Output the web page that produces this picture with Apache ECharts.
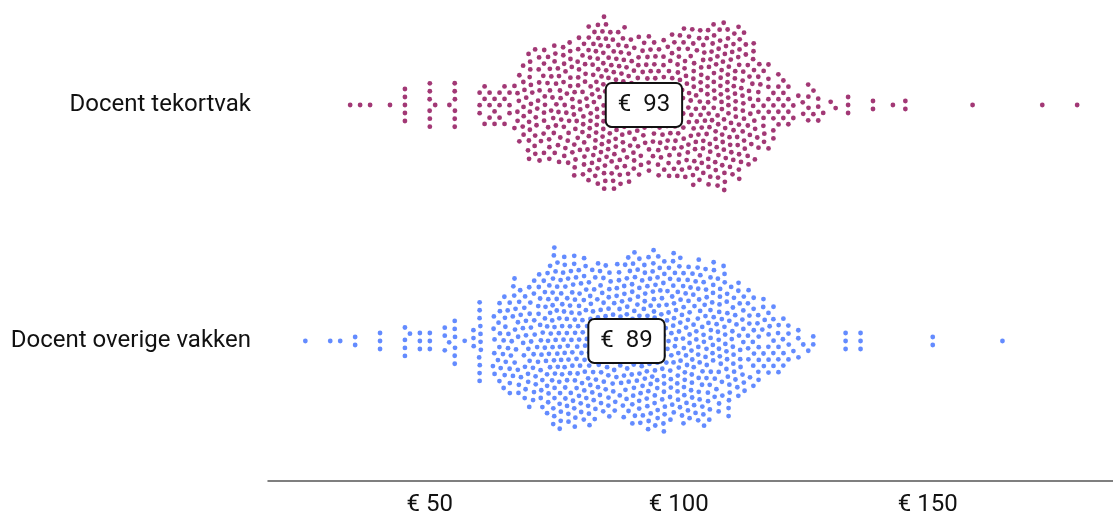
<!DOCTYPE html>
<html><head><meta charset="utf-8">
<script src="https://cdn.jsdelivr.net/npm/echarts@6/dist/echarts.min.js"></script>
<style>html,body{margin:0;padding:0;background:#fff}#c{width:1113px;height:518px}</style>
</head><body><div id="c"></div>
<script>
// y index 0 = bottom group, 1 = top group
const groups = ['Docent overige vakken', 'Docent tekortvak'];
// [value in euro, number of teachers]
const tekortvak = [
  [34,1],[36,1],[38,1],[42,1],[45,5],[50,6],[51,1],[54,1],[55,6],
  [60,3],[61,3],[62,3],[63,3],[64,3],[65,3],[66,3],[67,2],
  [68,6],[69,7],[70,14],[71,7],[72,7],
  [73,9],[74,9],[75,10],[76,10],[77,10],[78,10],
  [79,11],[80,12],[81,12],[82,13],[83,13],[84,13],
  [85,26],
  [86,13],[87,14],[88,14],[89,13],[90,13],
  [91,12],[92,11],[93,11],[94,11],[95,11],[96,11],[97,12],
  [98,12],[99,12],[100,13],[101,13],[102,13],[103,13],[104,13],[105,14],
  [106,14],[107,15],[108,15],[109,18],[110,14],
  [111,13],[112,13],[113,12],
  [114,10],[115,9],[116,8],
  [117,6],[118,6],[119,5],[120,5],[121,4],[122,4],
  [123,2],[124,1],[125,2],[126,4],[127,2],[128,3],[129,1],
  [130.5,1],[131.5,1],[134,3],[139,2],[143,1],[145.5,2],[159,1],[173,1],[180,1]
];
const overige = [
  [25,1],[30,1],[32,1],[35,2],[40,3],[45,4],[46,1],[48,3],[50,3],[53,3],[54,1],[55,6],[57,1],[59,3],[60,11],
  [63,6],[64,8],[65,8],[66,9],[67,9],[68,9],
  [69,10],[70,10],[71,10],[72,10],[73,11],[74,11],
  [75,28],
  [76,14],[77,15],[78,15],[79,15],[80,15],[81,15],[82,15],[83,14],
  [84,13],[85,12],[86,12],[87,12],[88,13],
  [89,14],[90,15],[91,15],[92,16],[93,16],[94,16],[95,16],[96,16],[97,16],[98,15],[99,15],[100,15],
  [101,15],[102,14],[103,14],[104,14],[105,14],[106,14],
  [107,13],[108,13],[109,13],[110,12],
  [111,10],[112,9],
  [113,8],[114,8],[115,7],[116,7],[117,6],[118,6],[119,5],[120,5],[121,4],[122,4],
  [123,1],[124,3],[125,1],[126,1],[127,2],
  [133.5,3],[136.5,3],[151,2],[165,1]
];
const medianPos = [89.5, 93];
const medianLabels = ['€  89', '€  93'];
const xTicks = [50, 100, 150];
const colors = ['#4d7bff', '#951d62'];

const chart = echarts.init(document.getElementById('c'));
const FONT = 'Roboto';
chart.setOption({
  animation: false,
  grid: {left: 268, right: 0, top: 105, bottom: 177, containLabel: false, outerBoundsMode: 'none'},
  xAxis: {
    type: 'value', min: 17.5, max: 187.2, offset: 140,
    axisLine: {onZero: false, lineStyle: {color: '#555', width: 1.5}},
    axisTick: {show: false}, splitLine: {show: false},
    axisLabel: {customValues: xTicks, formatter: v => '€ ' + v, fontFamily: FONT, fontSize: 24, color: '#111', margin: 12}
  },
  yAxis: {
    type: 'value', min: 0, max: 1, interval: 1,
    axisLine: {show: false}, axisTick: {show: false}, splitLine: {show: false},
    axisLabel: {formatter: v => groups[v] || '', fontFamily: FONT, fontSize: 24, color: '#111', margin: 17}
  },
  series: []
});

function swarm(data, gi) {
  const toPx = p => chart.convertToPixel({gridIndex: 0}, p);
  const cy = toPx([50, gi])[1];
  const nodes = [];
  data.forEach(([v, c]) => { for (let k = 0; k < c; k++) nodes.push({v: v, tx: toPx([v, gi])[0]}); });
  const ga = Math.PI * (3 - Math.sqrt(5));
  nodes.forEach((n, i) => {
    const r = 3 * Math.sqrt(0.5 + i), a = i * ga;
    n.x = n.tx + 0.2 * r * Math.cos(a); n.y = cy + r * Math.sin(a); n.vx = 0; n.vy = 0;
  });
  let alpha = 1;
  const alphaDecay = 1 - Math.pow(0.001, 1 / 300);
  const D = 8, D2 = D * D;
  const N = nodes.length;
  for (let t = 0; t < 300; t++) {
    alpha += (0 - alpha) * alphaDecay;
    const kx = alpha + 0.15, ky = 0.1 * alpha;
    for (const n of nodes) { n.vx += (n.tx - n.x) * kx; n.vy += (cy - n.y) * ky; }
    for (let i = 0; i < N; i++) {
      const a = nodes[i];
      const xi = a.x + a.vx, yi = a.y + a.vy;
      for (let j = i + 1; j < N; j++) {
        const b = nodes[j];
        let dx = xi - b.x - b.vx;
        if (dx >= D || dx <= -D) continue;
        let dy = yi - b.y - b.vy;
        let l = dx * dx + dy * dy;
        if (l < D2) {
          if (dx === 0) { dx = ((i * 7 + j) % 2 ? 1e-6 : -1e-6); l += dx * dx; }
          if (dy === 0) { dy = ((i + j * 3) % 2 ? 1e-6 : -1e-6); l += dy * dy; }
          l = Math.sqrt(l);
          l = (D - l) / l;
          dx *= l; dy *= l;
          a.vx += dx * 0.5; a.vy += dy * 0.5;
          b.vx -= dx * 0.5; b.vy -= dy * 0.5;
        }
      }
    }
    for (const n of nodes) { n.x += (n.vx *= 0.6); n.y += (n.vy *= 0.6); }
  }
  return nodes.map(n => chart.convertFromPixel({gridIndex: 0}, [n.x, n.y]));
}

const seriesData = [swarm(overige, 0), swarm(tekortvak, 1)];
const series = [];
[0, 1].forEach(g => {
  series.push({
    type: 'scatter', name: groups[g], data: seriesData[g], symbolSize: 4.8, clip: false, silent: true,
    itemStyle: {color: colors[g], opacity: 0.88}, z: 2
  });
});
[0, 1].forEach(g => {
  series.push({
    type: 'scatter', data: [[medianPos[g], g]], symbol: 'rect', symbolSize: 1, clip: false, silent: true, z: 10,
    itemStyle: {color: 'rgba(0,0,0,0)', opacity: 1},
    label: {show: true, position: 'inside', formatter: medianLabels[g], fontFamily: FONT, fontSize: 24, color: '#111', opacity: 1,
      backgroundColor: '#fff', borderColor: '#111', borderWidth: 2, borderRadius: 5, padding: [7, 11], lineHeight: 28}
  });
});
chart.setOption({series: series});
</script>
</body></html>
